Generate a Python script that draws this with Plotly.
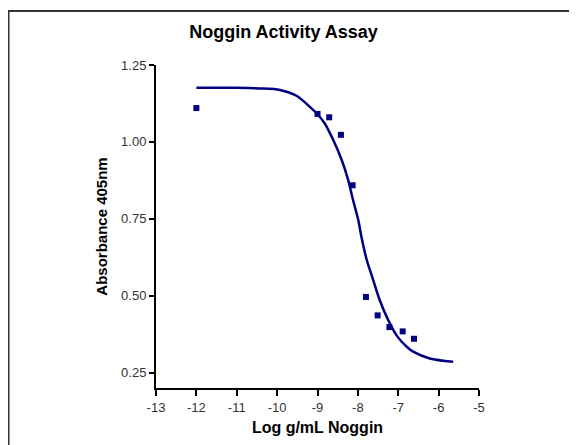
import plotly.graph_objects as go

# Measured data points
log_conc = [-12.0, -9.0, -8.71, -8.42, -8.13, -7.80, -7.51, -7.22, -6.89, -6.61]
absorbance = [1.11, 1.091, 1.08, 1.023, 0.859, 0.496, 0.436, 0.398, 0.384, 0.360]

# Fitted curve
curve_x = [-12.0, -11.0, -10.43, -9.93, -9.52, -9.19, -9.0, -8.82, -8.61, -8.40, -8.24,
           -8.12, -7.99, -7.91, -7.78, -7.62, -7.46, -7.25, -7.02, -6.79, -6.63, -6.22, -5.64]
curve_y = [1.176, 1.176, 1.174, 1.169, 1.150, 1.114, 1.090, 1.060, 1.006, 0.941, 0.876,
           0.811, 0.746, 0.690, 0.616, 0.551, 0.486, 0.421, 0.367, 0.334, 0.318, 0.296, 0.285]

x_tickvals = [-13, -12, -11, -10, -9, -8, -7, -6, -5]
x_ticktext = ["-13", "-12", "-11", "-10", "-9", "-8", "-7", "-6", "-5"]
y_tickvals = [0.25, 0.50, 0.75, 1.00, 1.25]
y_ticktext = ["0.25", "0.50", "0.75", "1.00", "1.25"]

navy = "#000080"
font = "Liberation Sans, Arial, sans-serif"

fig = go.Figure()
fig.add_trace(go.Scatter(x=curve_x, y=curve_y, mode="lines",
                         line=dict(color=navy, width=2.5, shape="spline", smoothing=0.8),
                         hoverinfo="skip", showlegend=False))
fig.add_trace(go.Scatter(x=log_conc, y=absorbance, mode="markers",
                         marker=dict(symbol="square", size=6, color=navy),
                         showlegend=False))

# page is drawn with an 8px body offset; compensate in the margins
W, H = 577, 445
L, T = 148, 57
R = W - 471
B = H - 380
pw, ph = W - L - R, H - T - B

def px_to_paper_x(px):
    return (px - L) / pw

def px_to_paper_y(py):
    return (H - B - py) / ph

# Outer frame (top & left visible)
fig.add_shape(type="line", xref="paper", yref="paper",
              x0=px_to_paper_x(0), x1=px_to_paper_x(600),
              y0=px_to_paper_y(3), y1=px_to_paper_y(3),
              line=dict(color="#333333", width=2))
fig.add_shape(type="line", xref="paper", yref="paper",
              x0=px_to_paper_x(0.5), x1=px_to_paper_x(0.5),
              y0=px_to_paper_y(3), y1=px_to_paper_y(470),
              line=dict(color="#333333", width=2))

fig.update_layout(
    width=W, height=H,
    margin=dict(l=L, r=R, t=T, b=B),
    paper_bgcolor="white", plot_bgcolor="white",
    font=dict(family=font, color="#222222"),
    title=dict(text="<b>Noggin Activity Assay</b>", x=275.5 / W, xref="container",
               y=1 - 24 / H, yref="container", yanchor="middle", xanchor="center",
               font=dict(size=18, color="black", family=font)),
)
fig.update_xaxes(range=[-13, -5], tickvals=x_tickvals, ticktext=x_ticktext,
                 showline=True, linecolor="black", linewidth=2,
                 ticks="outside", ticklen=6, tickwidth=2, tickcolor="black",
                 showgrid=False, zeroline=False,
                 tickfont=dict(size=13, color="#333333"),
                 title=dict(text="<b>Log g/mL Noggin</b>", font=dict(size=16, color="black"), standoff=8))
fig.update_yaxes(range=[0.2, 1.25], tickvals=y_tickvals, ticktext=y_ticktext,
                 showline=True, linecolor="black", linewidth=2,
                 ticks="outside", ticklen=5, tickwidth=2, tickcolor="black",
                 showgrid=False, zeroline=False,
                 tickfont=dict(size=13, color="#333333"),
                 title=dict(text="<b>Absorbance 405nm</b>", font=dict(size=15, color="black"), standoff=10))

fig.write_html("out.html")
